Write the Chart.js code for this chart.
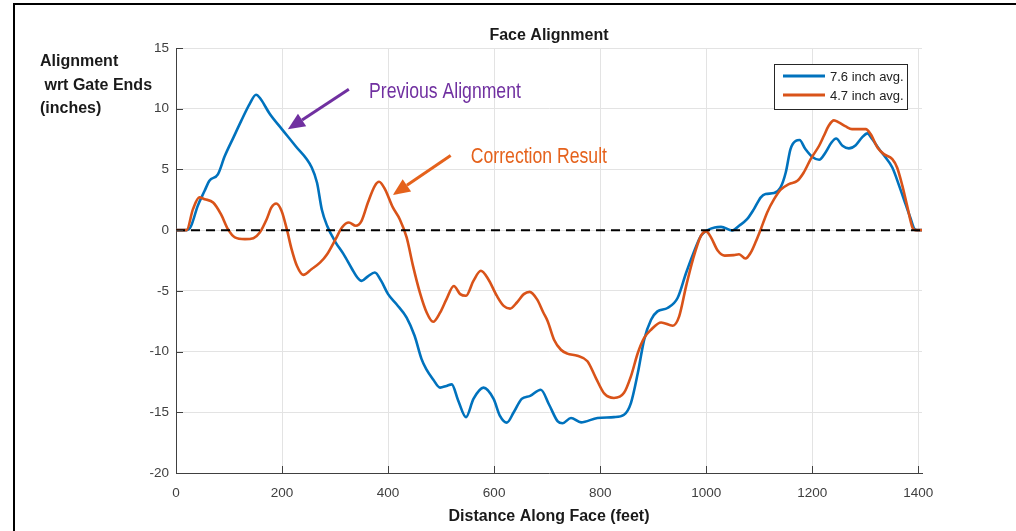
<!DOCTYPE html>
<html>
<head>
<meta charset="utf-8">
<script src="https://cdn.jsdelivr.net/npm/chart.js@4.4.0/dist/chart.umd.min.js"></script>
<style>
body { margin: 0; background: #fff; }
#wrap { width: 1016px; height: 531px; }
</style>
</head>
<body>
<div id="wrap"><canvas id="myChart" width="1016" height="531"></canvas></div>
<script>
// distance along face (feet) / alignment (inches)
var prevX = [0, 20, 28, 41, 54, 63, 79, 92, 108, 123, 139, 151, 158, 177, 200, 225, 256, 266, 275, 285,
  301, 316, 332, 342, 350, 362, 375, 387, 400, 416, 435, 450, 463, 472, 485, 498, 510, 520, 532, 547,
  561, 580, 599, 611, 624, 637, 652, 668, 688, 704, 720, 729, 745, 764, 795, 826, 845, 858, 871, 883,
  896, 908, 927, 946, 962, 975, 990, 1003, 1016, 1028, 1049, 1062, 1077, 1090, 1103, 1112, 1128, 1140, 1150, 1159,
  1169, 1176, 1187, 1201, 1213, 1225, 1236, 1245, 1257, 1269, 1282, 1294, 1304, 1313, 1326, 1338, 1351, 1364, 1376, 1386,
  1392, 1398, 1407];
var prevY = [0, 0, 0.3, 2.0, 3.24, 4.07, 4.6, 6.1, 7.6, 9.0, 10.4, 11.15, 10.9, 9.56, 8.3, 6.95, 5.16, 3.9, 1.7, 0.36,
  -1.0, -1.98, -3.2, -3.9, -4.18, -3.8, -3.49, -4.18, -5.27, -6.1, -7.2, -8.7, -10.6, -11.45, -12.3, -12.97, -12.83, -12.7, -14.0, -15.4,
  -13.9, -12.97, -13.9, -15.3, -15.85, -15.0, -13.9, -13.65, -13.14, -14.4, -15.75, -15.9, -15.47, -15.83, -15.47, -15.4, -15.2, -14.24, -11.77, -9.02,
  -7.38, -6.69, -6.41, -5.59, -3.53, -2.0, -0.47, 0, 0.22, 0.27, -0.03, 0.36, 0.9, 1.73, 2.7, 2.97, 3.05, 3.5, 4.75, 6.68,
  7.36, 7.42, 6.68, 6.0, 5.8, 6.4, 7.2, 7.55, 6.95, 6.73, 7.0, 7.64, 7.97, 7.5, 6.68, 6.0, 5.16, 3.65, 2.14, 0.9,
  0.14, 0, 0];

var corrX = [0, 20, 32, 44, 54, 70, 85, 98, 111, 130, 146, 158, 171, 180, 189, 199, 209, 218, 228, 240,
  256, 272, 285, 301, 313, 326, 339, 350, 362, 375, 383, 394, 409, 422, 435, 447, 460, 473, 485, 498,
  510, 524, 536, 547, 561, 575, 589, 605, 618, 630, 643, 656, 667, 681, 693, 701, 713, 726, 738, 757,
  776, 792, 808, 826, 845, 858, 871, 883, 896, 915, 937, 949, 962, 975, 990, 1000, 1009, 1022, 1035, 1052,
  1062, 1074, 1084, 1093, 1103, 1115, 1128, 1140, 1156, 1172, 1184, 1197, 1213, 1222, 1231, 1241, 1250, 1263, 1275, 1288,
  1301, 1310, 1323, 1335, 1351, 1360, 1370, 1379, 1389, 1395, 1407];
var corrY = [0, 0, 1.73, 2.7, 2.55, 2.28, 1.3, 0.08, -0.6, -0.74, -0.66, -0.2, 0.9, 1.87, 2.2, 1.6, 0.08, -1.57, -2.94, -3.68,
  -3.2, -2.66, -1.98, -0.74, 0.22, 0.63, 0.36, 0.77, 2.28, 3.65, 3.98, 3.38, 1.87, 0.9, -0.6, -2.94, -5.14, -6.8, -7.55, -6.8,
  -5.7, -4.6, -5.27, -5.4, -4.18, -3.35, -4.04, -5.4, -6.24, -6.46, -5.96, -5.27, -5.08, -5.7, -6.8, -7.5, -9.02, -9.85, -10.17, -10.34,
  -10.8, -12.18, -13.47, -13.82, -13.4, -12.04, -10.12, -8.88, -8.2, -7.6, -7.87, -7.1, -4.63, -2.4, -0.47, -0.1, -0.6, -1.7, -2.1, -2.06,
  -1.98, -2.34, -1.85, -1.0, 0.08, 1.46, 2.55, 3.32, 3.79, 4.07, 4.75, 5.85, 6.95, 7.77, 8.6, 9.04, 8.87, 8.54, 8.32, 8.32,
  8.32, 7.91, 6.81, 6.26, 5.85, 5.16, 3.65, 2.0, 0.22, 0, 0];

var zeroX = [0, 1407];
var zeroY = [0, 0];

var xTicks = [0, 200, 400, 600, 800, 1000, 1200, 1400];
var yTicks = [-20, -15, -10, -5, 0, 5, 10, 15];
var seriesLabels = ['7.6 inch avg.', '4.7 inch avg.'];
var seriesColors = ['#0072BD', '#D95319'];

// callouts, placed in data units
var notes = [
  { text: 'Previous Alignment', color: '#7030A0', tx: 364, ty: 10.9, from: [326, 11.6], to: [211, 8.3] },
  { text: 'Correction Result', color: '#E5621C', tx: 556, ty: 5.5, from: [518, 6.15], to: [409, 2.9] }
];

var FONT = "'Liberation Sans', Arial, Helvetica, sans-serif";
Chart.defaults.font.family = FONT;

function pts(xs, ys) {
  return xs.map(function (x, i) { return { x: x, y: ys[i] }; });
}

function narrowText(ctx, text, x, y, size) {
  ctx.font = size + 'px "Liberation Sans Narrow"';
  var w1 = ctx.measureText(text).width;
  ctx.font = size + "px 'Liberation Sans'";
  var w2 = ctx.measureText(text).width;
  if (w1 < w2 * 0.9) {
    ctx.font = size + 'px "Liberation Sans Narrow"';
    ctx.fillText(text, x, y);
  } else {
    ctx.save();
    ctx.translate(x, y);
    ctx.scale(0.82, 1);
    ctx.fillText(text, 0, 0);
    ctx.restore();
  }
}

function arrow(ctx, x1, y1, x2, y2, color) {
  var ang = Math.atan2(y2 - y1, x2 - x1);
  var head = 17, half = 7.5;
  var bx = x2 - Math.cos(ang) * head, by = y2 - Math.sin(ang) * head;
  ctx.strokeStyle = color;
  ctx.fillStyle = color;
  ctx.lineWidth = 3;
  ctx.beginPath();
  ctx.moveTo(x1, y1);
  ctx.lineTo(bx, by);
  ctx.stroke();
  ctx.beginPath();
  ctx.moveTo(x2, y2);
  ctx.lineTo(bx + Math.sin(ang) * half, by - Math.cos(ang) * half);
  ctx.lineTo(bx - Math.sin(ang) * half, by + Math.cos(ang) * half);
  ctx.closePath();
  ctx.fill();
}

var decor = {
  id: 'decor',
  beforeDraw: function (chart) {
    var ctx = chart.ctx;
    ctx.save();
    ctx.fillStyle = '#fff';
    ctx.fillRect(0, 0, chart.width, chart.height);
    ctx.fillStyle = '#000';
    ctx.fillRect(13, 3, chart.width - 13, 2);
    ctx.fillRect(13, 3, 2, chart.height - 3);
    ctx.restore();
  },
  afterDraw: function (chart) {
    var ctx = chart.ctx, ca = chart.chartArea;
    var xs = chart.scales.x, ys = chart.scales.y;
    ctx.save();

    // inward tick marks
    ctx.strokeStyle = '#404040';
    ctx.lineWidth = 1;
    ctx.beginPath();
    ys.ticks.forEach(function (t) {
      var p = Math.round(ys.getPixelForValue(t.value)) + 0.5;
      ctx.moveTo(ca.left, p);
      ctx.lineTo(ca.left + 7, p);
    });
    xs.ticks.forEach(function (t) {
      var p = Math.round(xs.getPixelForValue(t.value)) + 0.5;
      ctx.moveTo(p, ca.bottom);
      ctx.lineTo(p, ca.bottom - 7);
    });
    ctx.stroke();

    // titles
    ctx.fillStyle = '#1a1a1a';
    ctx.font = 'bold 16px ' + FONT;
    ctx.textAlign = 'center';
    ctx.textBaseline = 'alphabetic';
    ctx.fillText('Face Alignment', (ca.left + ca.right) / 2, 40);
    ctx.fillText('Distance Along Face (feet)', (ca.left + ca.right) / 2, 521);
    ctx.textAlign = 'left';
    ctx.fillText('Alignment', 40, 66);
    ctx.fillText(' wrt Gate Ends', 40, 89.5);
    ctx.fillText('(inches)', 40, 113);

    // legend box
    var bw = 133, bh = 45;
    var bx = ca.right - 15 - bw, by = ca.top + 16;
    ctx.fillStyle = '#fff';
    ctx.fillRect(bx, by, bw, bh);
    ctx.strokeStyle = '#262626';
    ctx.lineWidth = 1;
    ctx.strokeRect(Math.round(bx) + 0.5, Math.round(by) + 0.5, bw, bh);
    ctx.font = '13px ' + FONT;
    ctx.textBaseline = 'middle';
    seriesLabels.forEach(function (lab, i) {
      var ly = by + 12 + i * 19;
      ctx.strokeStyle = seriesColors[i];
      ctx.lineWidth = 3;
      ctx.beginPath();
      ctx.moveTo(bx + 9, ly);
      ctx.lineTo(bx + 51, ly);
      ctx.stroke();
      ctx.fillStyle = '#222';
      ctx.fillText(lab, bx + 56, ly + 1.5);
    });

    // callouts
    ctx.textBaseline = 'alphabetic';
    notes.forEach(function (n) {
      ctx.fillStyle = n.color;
      narrowText(ctx, n.text, xs.getPixelForValue(n.tx), ys.getPixelForValue(n.ty), 21.5);
      arrow(ctx, xs.getPixelForValue(n.from[0]), ys.getPixelForValue(n.from[1]),
        xs.getPixelForValue(n.to[0]), ys.getPixelForValue(n.to[1]), n.color);
    });
    ctx.restore();
  }
};

var ctx = document.getElementById('myChart');
new Chart(ctx, {
  type: 'line',
  data: {
    datasets: [{
      label: seriesLabels[0],
      data: pts(prevX, prevY),
      borderColor: seriesColors[0],
      borderWidth: 2.6,
      cubicInterpolationMode: 'monotone',
      order: 3
    }, {
      label: seriesLabels[1],
      data: pts(corrX, corrY),
      borderColor: seriesColors[1],
      borderWidth: 2.6,
      cubicInterpolationMode: 'monotone',
      order: 2
    }, {
      label: 'zero',
      data: pts(zeroX, zeroY),
      borderColor: '#000',
      borderWidth: 2,
      borderDash: [9, 6],
      order: 1
    }]
  },
  options: {
    responsive: false,
    animation: false,
    parsing: false,
    elements: { point: { radius: 0, hoverRadius: 0 } },
    layout: { padding: { left: 0, right: 94, top: 48, bottom: 0 } },
    plugins: {
      legend: { display: false },
      tooltip: { enabled: false },
      title: { display: false }
    },
    scales: {
      x: {
        type: 'linear',
        min: 0,
        max: 1407,
        afterBuildTicks: function (s) { s.ticks = xTicks.map(function (v) { return { value: v }; }); },
        afterFit: function (s) { s.height = 58; },
        grid: { color: '#e3e3e3', drawTicks: false },
        border: { color: '#404040', width: 1 },
        ticks: {
          color: '#404040',
          font: { size: 13.5 },
          padding: 12,
          maxRotation: 0,
          autoSkip: false,
          callback: function (v) { return String(v); }
        }
      },
      y: {
        type: 'linear',
        min: -20,
        max: 15,
        afterBuildTicks: function (s) { s.ticks = yTicks.map(function (v) { return { value: v }; }); },
        afterFit: function (s) { s.width = 176; },
        grid: { color: '#e3e3e3', drawTicks: false },
        border: { color: '#404040', width: 1 },
        ticks: {
          color: '#404040',
          font: { size: 13.5 },
          padding: 7,
          callback: function (v) { return String(v); }
        }
      }
    }
  },
  plugins: [decor]
});
</script>
</body>
</html>
